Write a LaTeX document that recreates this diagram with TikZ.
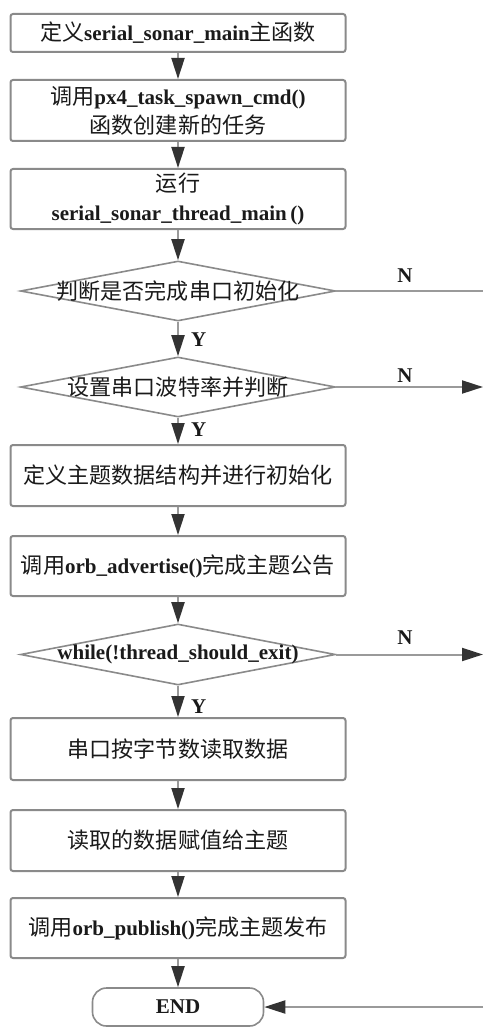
\documentclass[tikz,border=0pt]{standalone}
\usepackage{fontspec}
\setmainfont{Liberation Serif}
\newfontfamily\cjkfont[Scale=1.05]{Noto Sans CJK SC}
\usetikzlibrary{shapes.geometric,arrows.meta}
\newcommand{\zhtxt}[1]{{\cjkfont #1}}
\newcommand{\entxt}[1]{\textbf{#1}}
\definecolor{boxgray}{HTML}{8A8A8A}
\definecolor{linegray}{HTML}{9A9A9A}
\definecolor{tipdark}{HTML}{333333}
\definecolor{txtdark}{HTML}{1A1A1A}
\begin{document}
\begin{tikzpicture}[x=1pt,y=-1pt,
  txt/.style={font=\fontsize{21}{29}\selectfont, text=txtdark, align=center, inner sep=0pt},
  procbox/.style={txt, draw=boxgray, line width=2pt, rounded corners=2.5pt, fill=white,
    minimum width=335pt},
  decbox/.style={diamond, draw=boxgray, line width=1.6pt, fill=white, inner sep=0pt,
    minimum width=315pt, minimum height=60pt},
  termbox/.style={txt, draw=boxgray, line width=1.6pt, rounded corners=14pt, fill=white,
    minimum width=171pt, minimum height=38pt},
  ln/.style={draw=linegray, line width=2pt},
  arr/.style={ln, -{Triangle[length=21pt,width=13pt,color=tipdark]}},
  lbl/.style={font=\fontsize{21}{24}\selectfont\bfseries, text=txtdark, inner sep=0pt}
]
\useasboundingbox (0,0) rectangle (483,1027);

\node[procbox, minimum height=38pt] (b1) at (178,33)
  {\zhtxt{定义}\entxt{serial\_sonar\_main}\zhtxt{主函数}};
\node[procbox, minimum height=61pt] (b2) at (178,110.5)
  {\zhtxt{调用}\entxt{px4\_task\_spawn\_cmd()}\\\zhtxt{函数创建新的任务}};
\node[procbox, minimum height=60pt] (b3) at (178,199)
  {\zhtxt{运行}\\\entxt{serial\_sonar\_thread\_main\,()}};
\node[decbox] (d1) at (178,291) {};
\node[txt] (d1t) at (d1.center) {\zhtxt{判断是否完成串口初始化}};
\node[decbox] (d2) at (178,387) {};
\node[txt] (d2t) at (d2.center) {\zhtxt{设置串口波特率并判断}};
\node[procbox, minimum height=61pt] (b4) at (178,475.5)
  {\zhtxt{定义主题数据结构并进行初始化}};
\node[procbox, minimum height=60pt] (b5) at (178,566)
  {\zhtxt{调用}\entxt{orb\_advertise()}\zhtxt{完成主题公告}};
\node[decbox, minimum height=61pt] (d3) at (178,654.5) {};
\node[txt] (d3t) at (d3.center) {\entxt{while(!thread\_should\_exit)}};
\node[procbox, minimum height=62pt] (b6) at (178,749)
  {\zhtxt{串口按字节数读取数据}};
\node[procbox, minimum height=61pt] (b7) at (178,840.5)
  {\zhtxt{读取的数据赋值给主题}};
\node[procbox, minimum height=60pt] (b8) at (178,928)
  {\zhtxt{调用}\entxt{orb\_publish()}\zhtxt{完成主题发布}};
\node[termbox] (end) at (178,1007) {\entxt{END}};

\coordinate (r1) at (483,291);
\coordinate (r2) at (483,387);
\coordinate (r3) at (483,654.5);
\coordinate (r4) at (483,1007);

\draw[arr] (b1) -- (b2);
\draw[arr] (b2) -- (b3);
\draw[arr] (b3) -- (d1.north);
\draw[arr] (d1.south) -- (d2.north);
\draw[arr] (d2.south) -- (b4);
\draw[arr] (b4) -- (b5);
\draw[arr] (b5) -- (d3.north);
\draw[arr] (d3.south) -- (b6);
\draw[arr] (b6) -- (b7);
\draw[arr] (b7) -- (b8);
\draw[arr] (b8) -- (end);

\draw[ln] (d1.east) -- (r1);
\draw[arr] (d2.east) -- (r2);
\draw[arr] (d3.east) -- (r3);
\draw[arr] (r4) -- (end.east);

\node[lbl] (n1) at (405,276) {N};
\node[lbl] (n2) at (405,376) {N};
\node[lbl] (n3) at (405,638) {N};
\node[lbl, anchor=west] (y1) at (191,340) {Y};
\node[lbl, anchor=west] (y2) at (191,430) {Y};
\node[lbl, anchor=west] (y3) at (191,707) {Y};
\end{tikzpicture}
\end{document}
